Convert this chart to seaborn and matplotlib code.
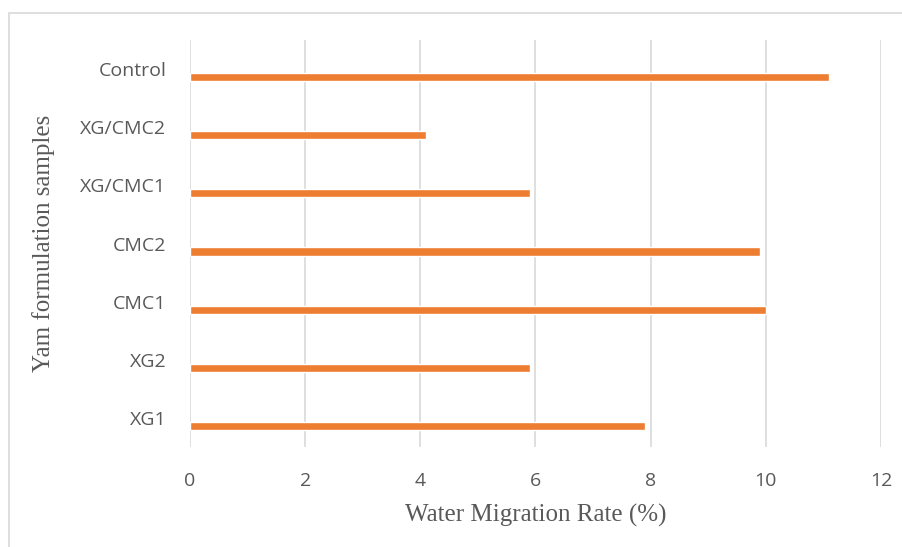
import matplotlib
matplotlib.use("Agg")
import matplotlib.pyplot as plt
import matplotlib.transforms as mtransforms
import seaborn as sns
import pandas as pd

samples = ["Control", "XG/CMC2", "XG/CMC1", "CMC2", "CMC1", "XG2", "XG1"]
migration_rate = [11.1, 4.1, 5.9, 9.9, 10.0, 5.9, 7.9]
x_ticks = [0, 2, 4, 6, 8, 10, 12]

df = pd.DataFrame({"sample": samples, "rate": migration_rate})

sns.set_style("white")
plt.rcParams["font.family"] = ["Open Sans", "DejaVu Sans"]

fig = plt.figure(figsize=(9.03, 5.47), dpi=100)
ax = fig.add_axes([0.2104, 0.1828, 0.7652, 0.744])

sns.barplot(data=df, y="sample", x="rate", orient="h", color="#ED7D31",
            width=0.14, saturation=1, ax=ax, zorder=3)

# bars sit a little below the category centre, as in Excel
shift = mtransforms.ScaledTranslation(0, -8 / 100, fig.dpi_scale_trans)
for bar in ax.patches:
    bar.set_transform(ax.transData + shift)

ax.set_xlim(0, 12)
ax.set_xticks(x_ticks)
ax.set_ylim(6.5, -0.5)
ax.grid(axis="x", color="#D9D9D9", linewidth=1.2, zorder=0)
for s in ax.spines.values():
    s.set_visible(False)
ax.tick_params(axis="both", length=0, labelsize=14, colors="#595959")
ax.tick_params(axis="y", pad=17)
ax.tick_params(axis="x", pad=18)

serif = ["Liberation Serif", "DejaVu Serif"]
ax.set_xlabel("Water Migration Rate (%)", fontsize=18, color="#595959",
              family=serif, labelpad=10)
ax.set_ylabel("Yam formulation samples", fontsize=18, color="#595959",
              family=serif, labelpad=18)

# chart area border (top and left visible)
fig.patches.append(plt.Rectangle((9 / 903, -0.05), 1.1, 1.05 - 13 / 547,
                                 transform=fig.transFigure, fill=False,
                                 edgecolor="#D9D9D9", linewidth=1.2))

fig.savefig("out.png", dpi=100)
